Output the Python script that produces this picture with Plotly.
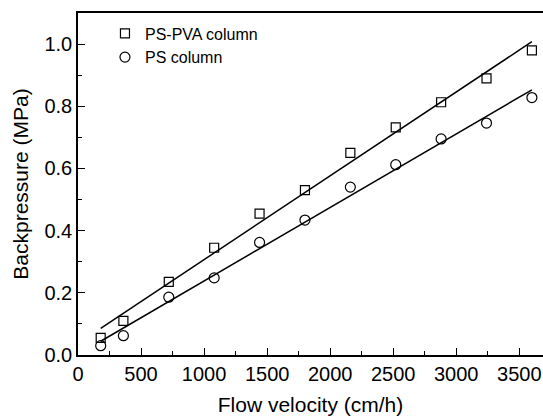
import numpy as np
import plotly.graph_objects as go

flow_velocity = [180, 360, 720, 1080, 1440, 1800, 2160, 2520, 2880, 3240, 3600]
ps_pva = [0.055, 0.11, 0.235, 0.345, 0.455, 0.53, 0.65, 0.732, 0.813, 0.89, 0.98]
ps = [0.03, 0.062, 0.186, 0.248, 0.362, 0.434, 0.540, 0.612, 0.695, 0.746, 0.828]

xv = np.array(flow_velocity, dtype=float)
fit_x = [xv.min(), xv.max()]
k1, b1 = np.polyfit(xv, ps_pva, 1)
k2, b2 = np.polyfit(xv, ps, 1)

fig = go.Figure()
fig.add_trace(go.Scatter(x=fit_x, y=[k1 * v + b1 for v in fit_x], mode="lines",
                         line=dict(color="black", width=1.5), showlegend=False))
fig.add_trace(go.Scatter(x=fit_x, y=[k2 * v + b2 for v in fit_x], mode="lines",
                         line=dict(color="black", width=1.5), showlegend=False))
fig.add_trace(go.Scatter(x=flow_velocity, y=ps_pva, mode="markers", name="PS-PVA column",
                         marker=dict(symbol="square-open", size=9, color="black",
                                     line=dict(width=1.2))))
fig.add_trace(go.Scatter(x=flow_velocity, y=ps, mode="markers", name="PS column",
                         marker=dict(symbol="circle-open", size=10, color="black",
                                     line=dict(width=1.2))))

font = "Liberation Sans, Arial, sans-serif"
fig.update_layout(
    width=543, height=418,
    margin=dict(l=78, r=0, t=13, b=63),
    paper_bgcolor="white", plot_bgcolor="white",
    font=dict(family=font, color="black"),
    showlegend=True,
    legend=dict(x=0.058, y=0.99, xanchor="left", yanchor="top",
                bgcolor="rgba(0,0,0,0)", font=dict(size=16, family=font),
                tracegroupgap=0, itemwidth=30),
    xaxis=dict(range=[0, 3688], tickvals=[0, 500, 1000, 1500, 2000, 2500, 3000, 3500],
               ticks="inside", ticklen=7, tickwidth=1.2, tickcolor="black",
               showline=True, linecolor="black", linewidth=1.5, mirror=True,
               showgrid=False, zeroline=False, automargin=False,
               tickfont=dict(size=20, family=font),
               minor=dict(ticks="inside", ticklen=4, tickwidth=1, tickcolor="black", dtick=250, tick0=0),
               title=dict(text="Flow velocity (cm/h)", font=dict(size=21, family=font), standoff=14)),
    yaxis=dict(range=[0, 1.1], tickvals=[0, 0.2, 0.4, 0.6, 0.8, 1.0],
               ticktext=["0.0", "0.2", "0.4", "0.6", "0.8", "1.0"],
               ticks="inside", ticklen=7, tickwidth=1.2, tickcolor="black",
               showline=True, linecolor="black", linewidth=1.5, mirror=False,
               showgrid=False, zeroline=False, automargin=False,
               tickfont=dict(size=20, family=font),
               minor=dict(ticks="inside", ticklen=4, tickwidth=1, tickcolor="black", dtick=0.1, tick0=0),
               title=dict(text="Backpressure (MPa)", font=dict(size=21, family=font), standoff=10)),
)

fig.write_html("out.html", config={"displayModeBar": False},
               post_script="document.body.style.margin='0px';document.body.style.overflow='hidden';")
